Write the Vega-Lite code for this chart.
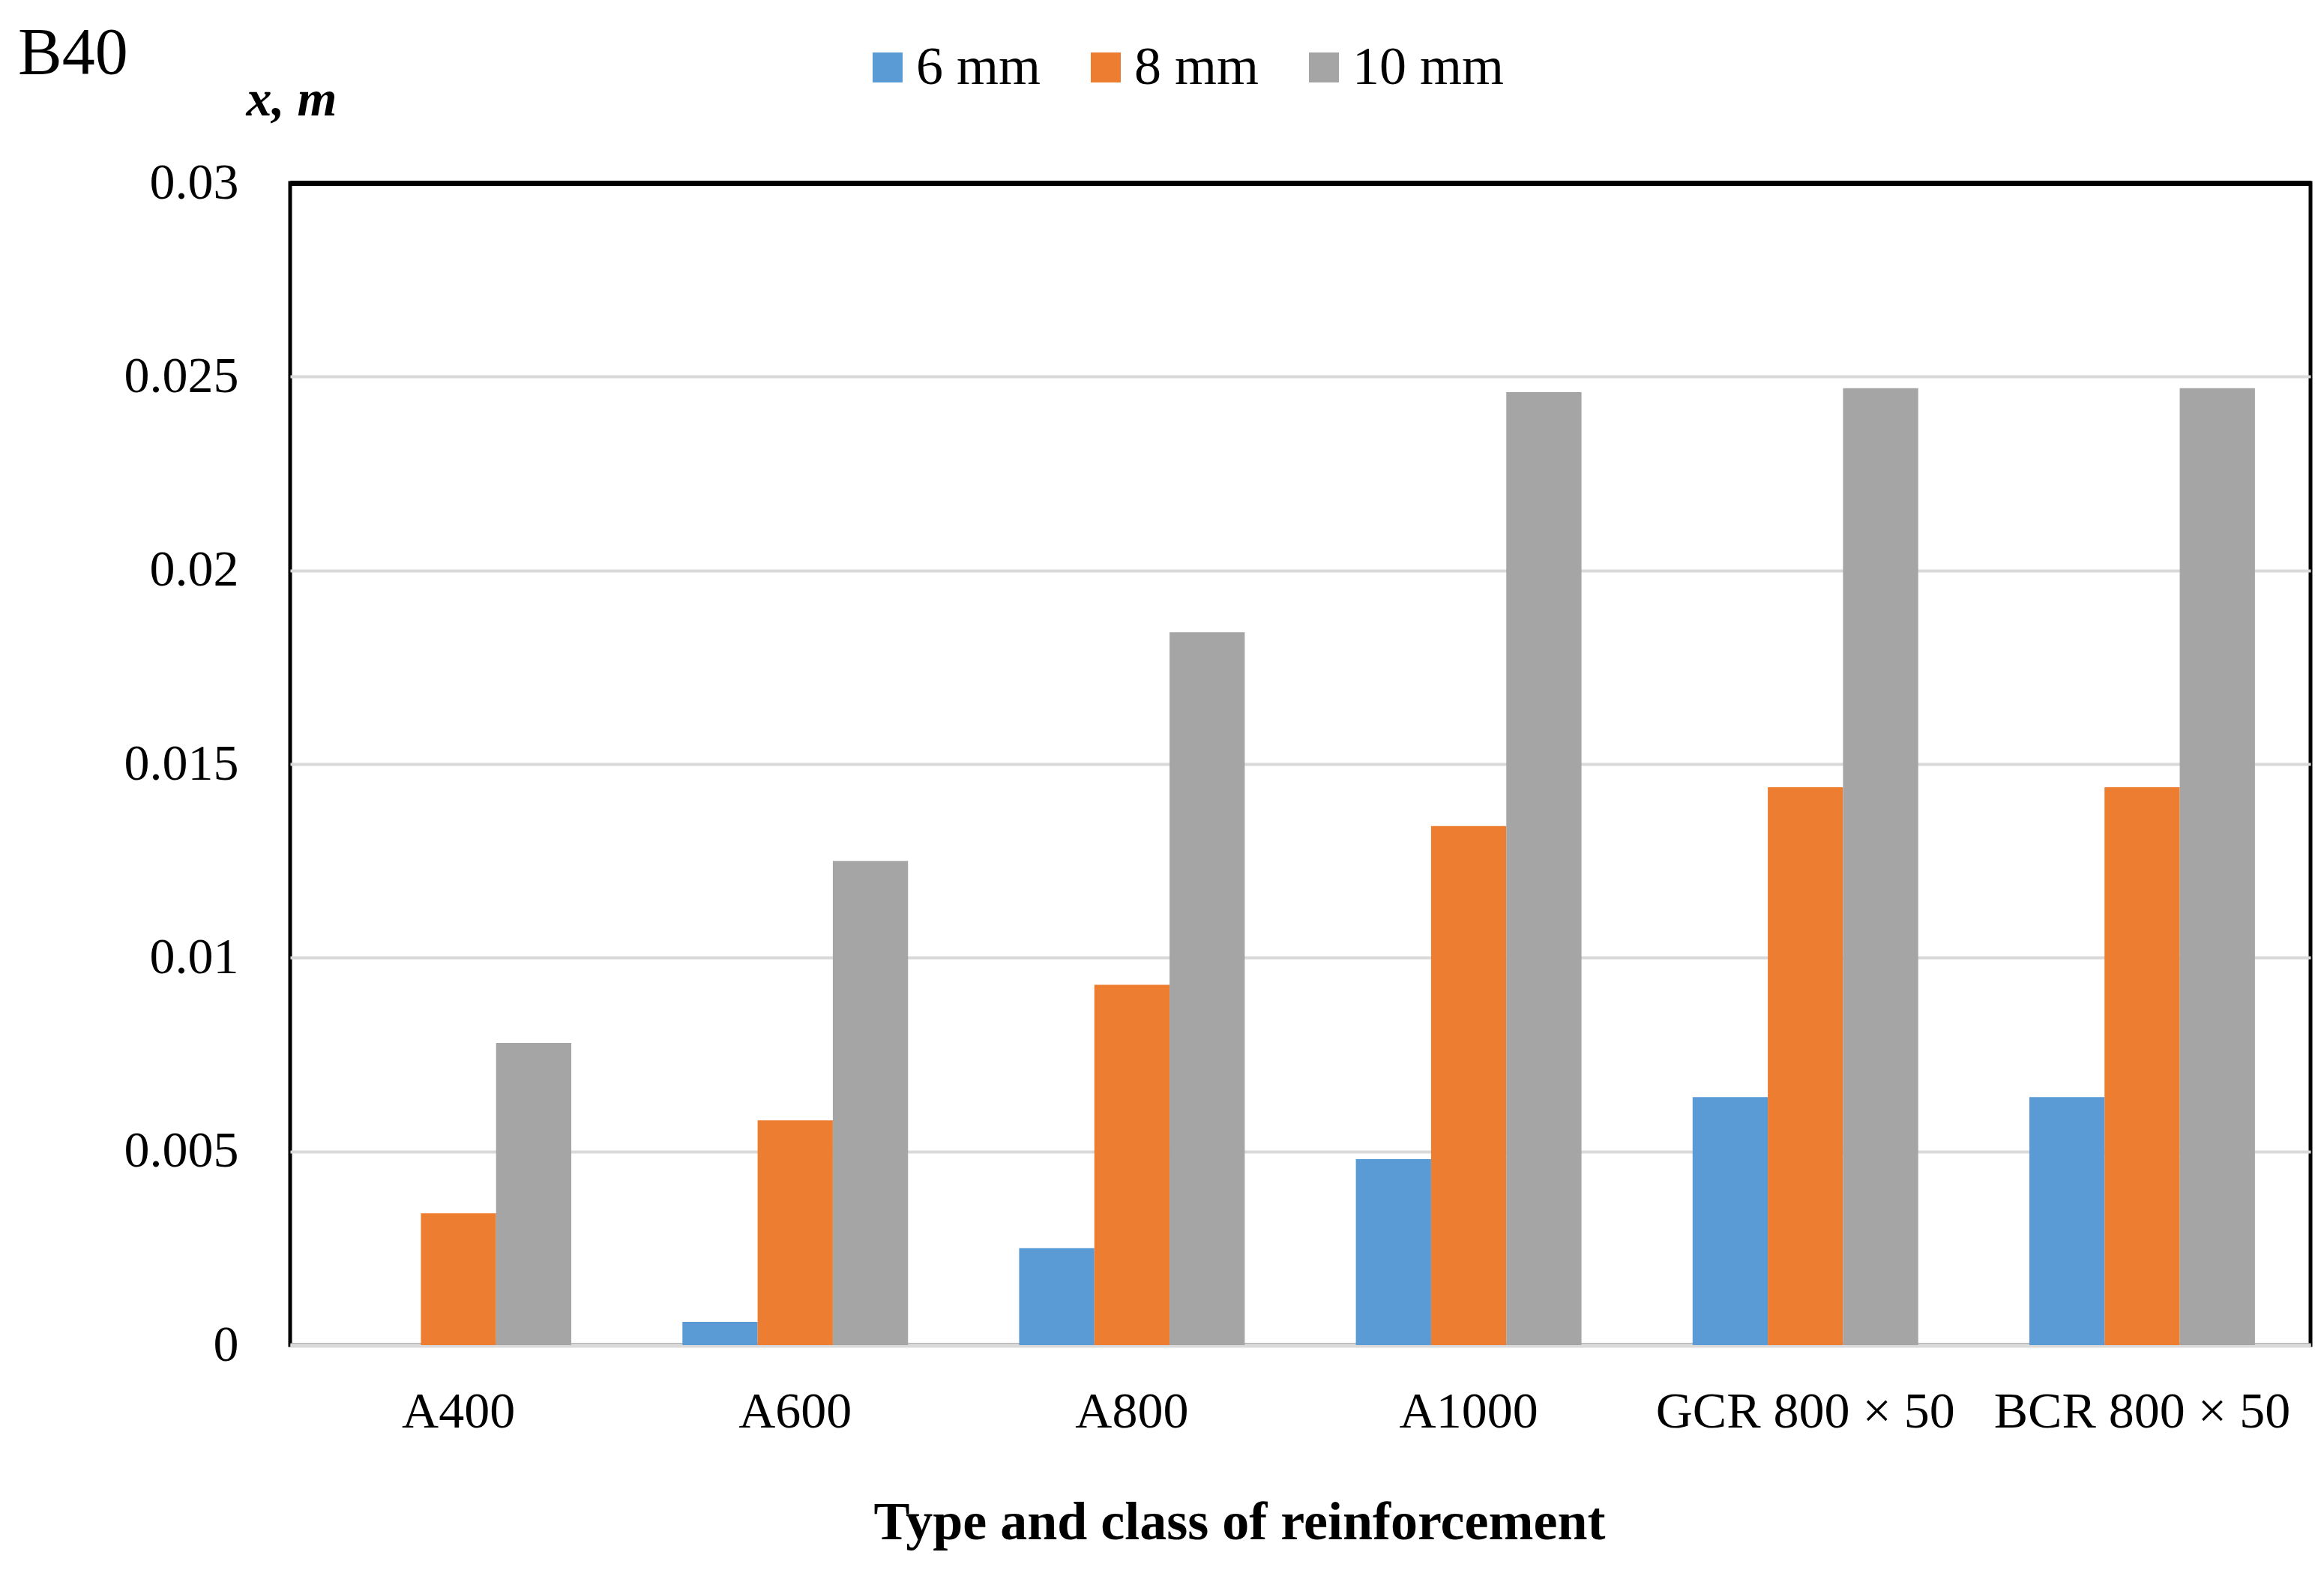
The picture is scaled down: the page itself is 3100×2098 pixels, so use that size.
{
  "$schema": "https://vega.github.io/schema/vega-lite/v6.json",
  "autosize": {"type": "none"},
  "width": 2695,
  "height": 1550,
  "padding": {"left": 387, "top": 244, "right": 18, "bottom": 304},
  "background": "white",
  "title": {
    "text": "B40",
    "anchor": "start",
    "frame": "group",
    "font": "Liberation Serif",
    "fontSize": 88,
    "fontWeight": "normal",
    "color": "black",
    "baseline": "alphabetic",
    "dx": -363,
    "offset": -132
  },
  "data": {
    "values": [
      {"type": "A400", "d": "6 mm", "x": 0},
      {"type": "A400", "d": "8 mm", "x": 0.0034},
      {"type": "A400", "d": "10 mm", "x": 0.0078},
      {"type": "A600", "d": "6 mm", "x": 0.0006},
      {"type": "A600", "d": "8 mm", "x": 0.0058},
      {"type": "A600", "d": "10 mm", "x": 0.0125},
      {"type": "A800", "d": "6 mm", "x": 0.0025},
      {"type": "A800", "d": "8 mm", "x": 0.0093},
      {"type": "A800", "d": "10 mm", "x": 0.0184},
      {"type": "A1000", "d": "6 mm", "x": 0.0048},
      {"type": "A1000", "d": "8 mm", "x": 0.0134},
      {"type": "A1000", "d": "10 mm", "x": 0.0246},
      {"type": "GCR 800 × 50", "d": "6 mm", "x": 0.0064},
      {"type": "GCR 800 × 50", "d": "8 mm", "x": 0.0144},
      {"type": "GCR 800 × 50", "d": "10 mm", "x": 0.0247},
      {"type": "BCR 800 × 50", "d": "6 mm", "x": 0.0064},
      {"type": "BCR 800 × 50", "d": "8 mm", "x": 0.0144},
      {"type": "BCR 800 × 50", "d": "10 mm", "x": 0.0247}
    ]
  },
  "mark": {"type": "bar"},
  "encoding": {
    "x": {
      "field": "type",
      "type": "nominal",
      "sort": null,
      "scale": {"paddingInner": 0.33, "paddingOuter": 0.165},
      "axis": {
        "title": "Type and class of reinforcement",
        "titleFont": "Liberation Serif",
        "titleFontSize": 72,
        "titleFontWeight": "bold",
        "titleColor": "black",
        "titleX": 1266,
        "titleY": 258,
        "titleAlign": "center",
        "titleBaseline": "alphabetic",
        "labelFont": "Liberation Serif",
        "labelFontSize": 68,
        "labelColor": "black",
        "labelAngle": 0,
        "labelPadding": 55,
        "labelBaseline": "top",
        "labelLimit": 1000,
        "labelOverlap": false,
        "ticks": false,
        "domainColor": "#d9d9d9",
        "domainWidth": 6,
        "grid": false
      }
    },
    "xOffset": {"field": "d", "type": "nominal", "sort": ["6 mm", "8 mm", "10 mm"]},
    "y": {
      "field": "x",
      "type": "quantitative",
      "scale": {"domain": [0, 0.03], "nice": false},
      "axis": {
        "title": "x, m",
        "titleFont": "Liberation Serif",
        "titleFontSize": 68,
        "titleFontWeight": "bold",
        "titleFontStyle": "italic",
        "titleColor": "black",
        "titleAngle": 0,
        "titleX": -59,
        "titleY": -91,
        "titleAlign": "left",
        "titleBaseline": "alphabetic",
        "values": [0, 0.005, 0.01, 0.015, 0.02, 0.025, 0.03],
        "labelExpr": "datum.value == 0 ? '0' : format(datum.value, '')",
        "labelFont": "Liberation Serif",
        "labelFontSize": 68,
        "labelColor": "black",
        "labelPadding": 69,
        "ticks": false,
        "domain": false,
        "grid": true,
        "gridColor": {"condition": {"test": "datum.value >= 0.03", "value": "black"}, "value": "#d9d9d9"},
        "gridWidth": {"condition": {"test": "datum.value >= 0.03", "value": 7}, "value": 4}
      }
    },
    "color": {
      "field": "d",
      "type": "nominal",
      "sort": ["6 mm", "8 mm", "10 mm"],
      "scale": {"domain": ["6 mm", "8 mm", "10 mm"], "range": ["#5B9BD5", "#ED7D31", "#A5A5A5"]},
      "legend": {
        "title": null,
        "orient": "none",
        "direction": "horizontal",
        "legendX": 761,
        "legendY": -190,
        "symbolType": "square",
        "symbolSize": 1600,
        "symbolStrokeWidth": 0,
        "labelFont": "Liberation Serif",
        "labelFontSize": 72,
        "labelColor": "black",
        "labelOffset": 2,
        "columnPadding": 50,
        "labelLimit": 400
      }
    }
  },
  "config": {
    "view": {"stroke": "black", "strokeWidth": 5}
  }
}
